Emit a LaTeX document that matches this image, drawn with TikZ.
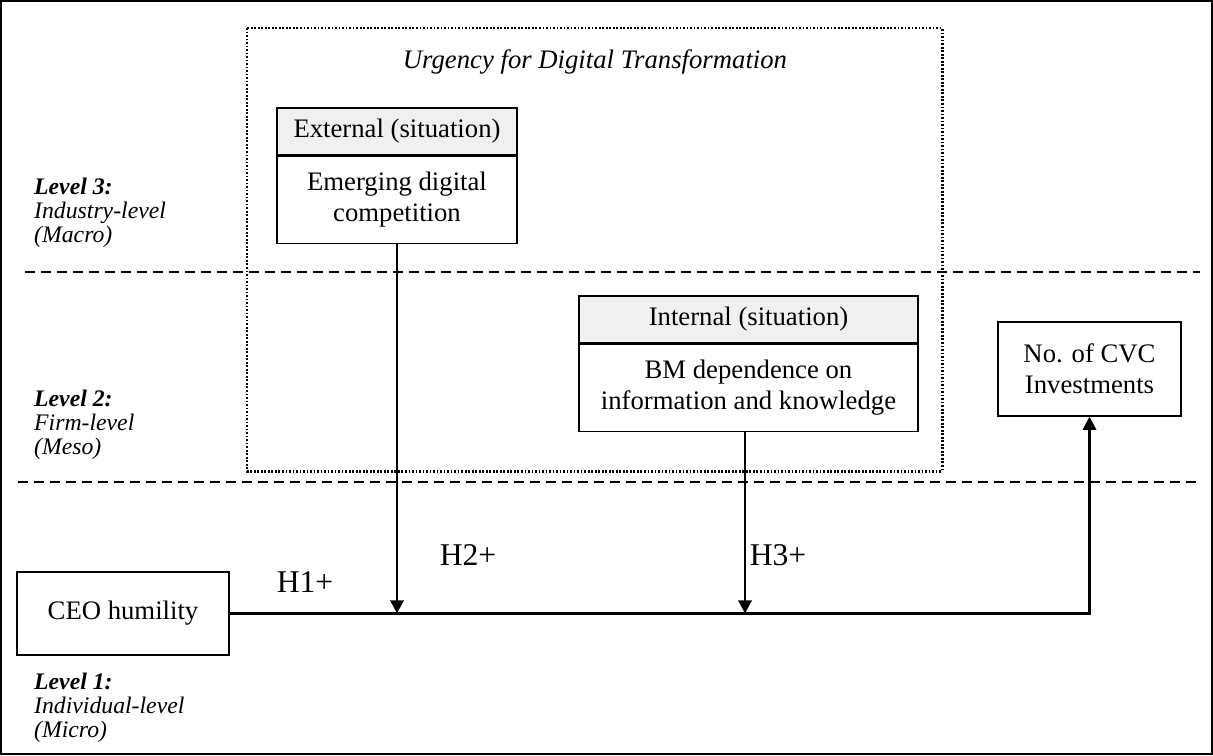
\documentclass[tikz,border=0pt]{standalone}
\usepackage{fontspec}
\setmainfont{Liberation Serif}
\usepackage{tikz}
\usetikzlibrary{arrows.meta,positioning,calc}
\definecolor{headgray}{RGB}{240,240,240}

\begin{document}
\begin{tikzpicture}[
    font=\fontsize{15.2}{17.5}\selectfont,
    >={Triangle[length=7.5pt,width=7.5pt]},
    arrow/.style={->, line width=1.6pt},
    head/.style={draw, line width=0.8pt, fill=headgray, minimum height=0.94cm,
                 inner sep=2pt, align=center},
    body/.style={draw, line width=0.8pt, fill=white, minimum height=1.74cm,
                 inner sep=2pt, align=center},
    block/.style={draw, line width=0.8pt, fill=white, align=center, inner sep=2pt},
    levelline/.style={line width=1.5pt, dash pattern=on 0.2cm off 0.12cm},
    urgency/.style={line width=1.7pt, dash pattern=on 1pt off 1pt},
    level/.style={anchor=west, align=left,
                  font=\fontsize{13.5}{13.6}\selectfont\itshape},
    hyp/.style={font=\fontsize{18}{20}\selectfont},
]

%% ── frame and level separators ───────────────────────────────
\draw[line width=0.9pt] (0.02,-0.02) rectangle (24.24,-15.08);
\useasboundingbox (0,0) rectangle (24.26,-15.1);
\draw[levelline] (0.5,-5.44) -- (24.0,-5.44);
\draw[levelline] (0.36,-9.64) -- (24.0,-9.64);

%% ── urgency for digital transformation ───────────────────────
\draw[urgency] (4.94,-0.56) rectangle (18.84,-9.42);
\node[font=\fontsize{15.2}{17.5}\selectfont\itshape] (urg) at (11.9,-1.24)
  {Urgency for Digital Transformation};

\node[head, minimum width=4.8cm]  (exthead) at (7.94,-2.63) {External (situation)};
\node[body, minimum width=4.8cm, below=0pt of exthead] (extbody)
  {Emerging digital\\competition};

\node[head, minimum width=6.78cm] (inthead) at (14.97,-6.39) {Internal (situation)};
\node[body, minimum width=6.78cm, below=0pt of inthead] (intbody)
  {BM dependence on\\information and knowledge};

%% ── individual level ─────────────────────────────────────────
\node[block, minimum width=4.24cm, minimum height=1.66cm] (ceo) at (2.46,-12.27)
  {CEO humility};
\node[block, minimum width=3.66cm, minimum height=1.88cm] (cvc) at (21.79,-7.38)
  {No. of CVC\\Investments};

\coordinate (mod2) at (extbody.south |- ceo.east);
\coordinate (mod3) at ($(intbody.south |- ceo.east)+(-0.07,0)$);

\draw[arrow] (ceo.east) -| (cvc.south);
\draw[arrow] (extbody.south) -- (mod2);
\draw[arrow] ($(intbody.south)+(-0.07,0)$) -- (mod3);

\node[hyp] (h1) at (6.1,-11.64) {H1+};
\node[hyp] (h2) at (9.36,-11.1) {H2+};
\node[hyp] (h3) at (15.56,-11.1) {H3+};

%% ── level labels ─────────────────────────────────────────────
\node[level] (lvl3) at (0.56,-4.26)
  {\textbf{Level 3:}\\Industry-level\\(Macro)};
\node[level] (lvl2) at (0.56,-8.5)
  {\textbf{Level 2:}\\Firm-level\\(Meso)};
\node[level] (lvl1) at (0.56,-14.16)
  {\textbf{Level 1:}\\Individual-level\\(Micro)};

\end{tikzpicture}
\end{document}
